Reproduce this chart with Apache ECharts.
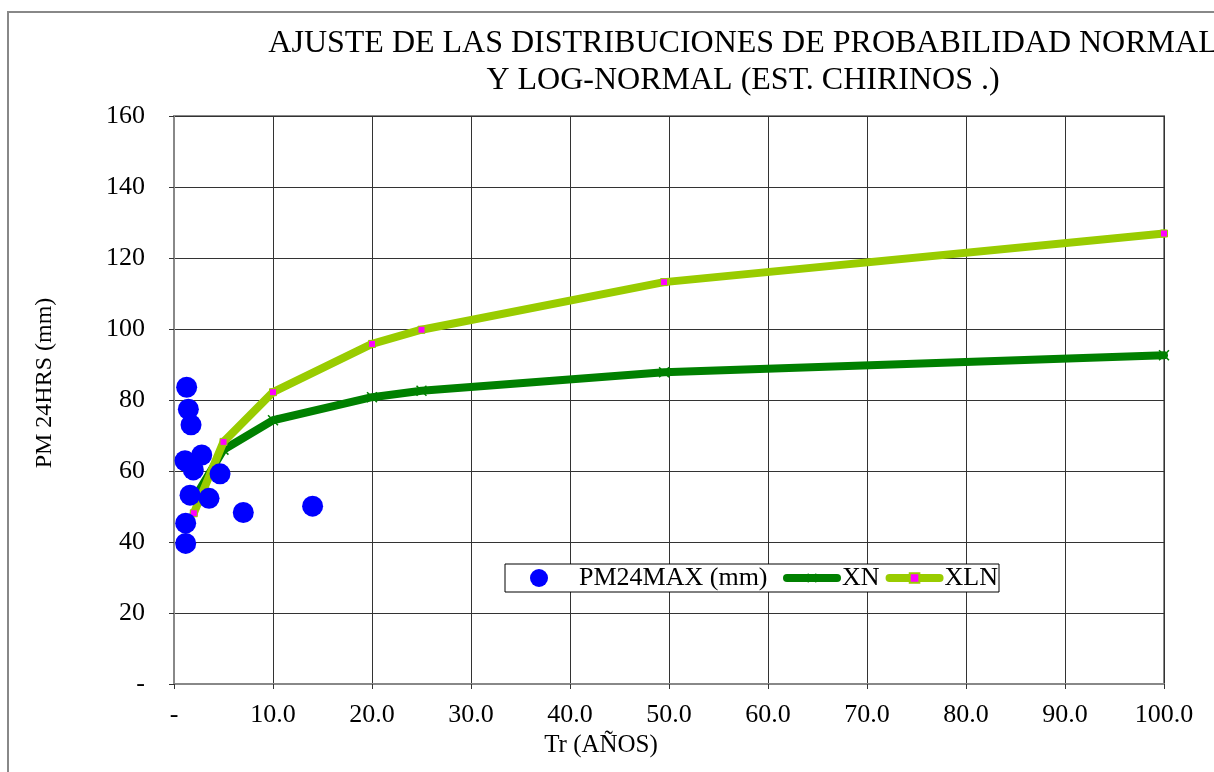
<!DOCTYPE html>
<html>
<head>
<meta charset="utf-8">
<script src="https://cdn.jsdelivr.net/npm/echarts@6/dist/echarts.min.js"></script>
<style>
    html, body { margin: 0; padding: 0; background: #fff; }
    #main { width: 1214px; height: 772px; }
</style>
</head>
<body>
<div id="main"></div>
<script>
// observaciones (Tr en años, PM 24h max en mm)
var trObs = [1.28, 1.45, 1.72, 1.11, 2.8, 1.95, 4.65, 1.62, 3.54, 7.0, 14.0, 1.18, 1.18];
var pmObs = [83.6, 77.4, 73.0, 62.9, 64.5, 60.3, 59.2, 53.2, 52.3, 48.3, 50.1, 45.3, 39.6];

// ajuste normal / log-normal
var trFit = [2, 5, 10, 20, 25, 49.5, 100];
var xnFit = [52.0, 66.0, 74.3, 80.8, 82.6, 87.8, 92.6];
var xlnFit = [48.1, 68.2, 82.2, 95.8, 99.8, 113.2, 126.9];

var titleLines = ['AJUSTE DE LAS DISTRIBUCIONES DE PROBABILIDAD NORMAL', 'Y LOG-NORMAL (EST. CHIRINOS .)'];
var seriesNames = ['PM24MAX (mm)', 'XN', 'XLN'];

var FONT = '"Liberation Serif", "Times New Roman", serif';

function pairs(xs, ys) {
    return xs.map(function (x, i) { return [x, ys[i]]; });
}

var myChart = echarts.init(document.getElementById('main'));

// marcador "x" de la serie normal
var xMark = 'path://M0,1 L1,0 L5,4 L9,0 L10,1 L6,5 L10,9 L9,10 L5,6 L1,10 L0,9 L4,5 Z';

var legendText = {
    fontFamily: FONT,
    fontSize: 26,
    color: '#000'
};

option = {
    animation: false,
    backgroundColor: '#fff',
    title: {
        text: titleLines.join('\n'),
        left: 738,
        top: 20,
        textAlign: 'center',
        textStyle: {
            fontFamily: FONT,
            fontSize: 32,
            fontWeight: 'normal',
            color: '#000',
            lineHeight: 37
        }
    },
    graphic: [
        {
            type: 'rect',
            silent: true,
            shape: { x: 8, y: 12, width: 1400, height: 1000 },
            style: { fill: null, stroke: '#888', lineWidth: 2 }
        },
        {
            // caja de la leyenda
            type: 'rect',
            silent: true,
            z: 10,
            shape: { x: 505, y: 564, width: 494, height: 28 },
            style: { fill: '#fff', stroke: '#000', lineWidth: 1 }
        },
        {
            type: 'text',
            x: 45, y: 383,
            rotation: Math.PI / 2,
            style: {
                text: 'PM 24HRS (mm)',
                font: '24px ' + FONT,
                fill: '#000',
                align: 'center',
                verticalAlign: 'middle'
            }
        },
        {
            type: 'text',
            x: 601, y: 745,
            style: {
                text: 'Tr (AÑOS)',
                font: '25px ' + FONT,
                fill: '#000',
                align: 'center',
                verticalAlign: 'middle'
            }
        }
    ],
    legend: [
        {
            z: 11,
            left: 530,
            top: 565,
            padding: 0,
            itemWidth: 64,
            itemHeight: 18,
            data: [seriesNames[0]],
            textStyle: Object.assign({ padding: [0, 0, 0, 3] }, legendText)
        },
        {
            z: 11,
            left: 783,
            top: 565,
            padding: 0,
            itemGap: 6,
            itemWidth: 50,
            itemHeight: 12,
            data: [seriesNames[1], seriesNames[2]],
            lineStyle: { width: 8, cap: 'round' },
            textStyle: Object.assign({ padding: [0, 0, 0, 0] }, legendText)
        }
    ],
    grid: {
        left: 174,
        right: 50,
        top: 116,
        bottom: 88,
        show: true,
        borderColor: '#888',
        borderWidth: 2,
        backgroundColor: 'transparent'
    },
    xAxis: {
        type: 'value',
        min: 0,
        max: 100,
        interval: 10,
        axisLine: { show: true, onZero: false, lineStyle: { color: '#888', width: 2 } },
        axisTick: { show: true, length: 5, lineStyle: { color: '#333' } },
        splitLine: { show: true, lineStyle: { color: '#333', width: 1 } },
        axisLabel: {
            margin: 18,
            fontFamily: FONT,
            fontSize: 26,
            color: '#000',
            formatter: function (v) { return v === 0 ? '-' : v.toFixed(1); }
        }
    },
    yAxis: {
        type: 'value',
        min: 0,
        max: 160,
        interval: 20,
        axisLine: { show: true, lineStyle: { color: '#888', width: 2 } },
        axisTick: { show: true, length: 5, lineStyle: { color: '#333' } },
        splitLine: { show: true, lineStyle: { color: '#333', width: 1 } },
        axisLabel: {
            margin: 29,
            fontFamily: FONT,
            fontSize: 26,
            color: '#000',
            formatter: function (v) { return v === 0 ? '-' : String(v); }
        }
    },
    series: [
        {
            name: seriesNames[0],
            type: 'scatter',
            z: 5,
            symbol: 'circle',
            symbolSize: 21,
            itemStyle: { color: '#0000FF', opacity: 1 },
            data: pairs(trObs, pmObs)
        },
        {
            name: seriesNames[1],
            type: 'line',
            z: 3,
            symbol: xMark,
            symbolSize: 11,
            showAllSymbol: true,
            lineStyle: { color: '#008000', width: 8, cap: 'round' },
            itemStyle: { color: '#008000', borderWidth: 0 },
            data: pairs(trFit, xnFit)
        },
        {
            name: seriesNames[2],
            type: 'line',
            z: 4,
            symbol: 'rect',
            symbolSize: 7,
            showAllSymbol: true,
            lineStyle: { color: '#99CC00', width: 8, cap: 'round' },
            itemStyle: { color: '#FF00FF', borderColor: '#99CC00', borderWidth: 1 },
            data: pairs(trFit, xlnFit)
        }
    ]
};

myChart.setOption(option);
</script>
</body>
</html>
